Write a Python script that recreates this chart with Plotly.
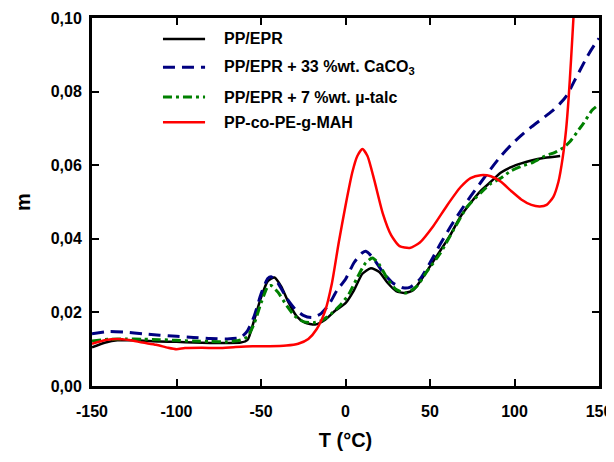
import plotly.graph_objects as go

# ---- data ----
T_black = [-150, -142, -135, -125, -110, -100, -90, -80, -70, -62, -58, -54, -50, -46, -42, -38, -34, -29, -24, -18, -12, -6, 0, 5, 10, 15, 20, 25, 30, 35, 40, 45, 50, 55, 62, 68, 74, 80, 86, 92, 98, 104, 110, 118, 127]
m_black = [0.0105, 0.0118, 0.0124, 0.0124, 0.0121, 0.0120, 0.0118, 0.0117, 0.0117, 0.0118, 0.0125, 0.018, 0.024, 0.0285, 0.0295, 0.027, 0.023, 0.019, 0.0172, 0.0167, 0.018, 0.0205, 0.0225, 0.026, 0.0305, 0.032, 0.031, 0.028, 0.0258, 0.0253, 0.026, 0.029, 0.0325, 0.036, 0.041, 0.046, 0.0497, 0.053, 0.0555, 0.058, 0.0595, 0.0605, 0.0613, 0.062, 0.0625]

T_blue = [-150, -140, -130, -120, -110, -100, -90, -80, -70, -62, -58, -54, -50, -46, -44, -40, -35, -30, -25, -20, -15, -10, -5, 0, 5, 10, 12, 16, 22, 28, 34, 38, 44, 50, 56, 62, 68, 74, 80, 86, 92, 98, 104, 110, 116, 122, 127, 131, 135, 139, 143, 147, 150]
m_blue = [0.0142, 0.0148, 0.0146, 0.0142, 0.0138, 0.0135, 0.0132, 0.0129, 0.0128, 0.0132, 0.015, 0.019, 0.025, 0.0292, 0.0297, 0.028, 0.024, 0.021, 0.0192, 0.0186, 0.0195, 0.022, 0.026, 0.029, 0.0335, 0.0362, 0.0366, 0.035, 0.031, 0.028, 0.0267, 0.0268, 0.029, 0.0335, 0.0385, 0.0432, 0.0475, 0.0515, 0.0553, 0.059, 0.0625, 0.0655, 0.0681, 0.0704, 0.0725, 0.0746, 0.0768, 0.079, 0.0825, 0.086, 0.0895, 0.0925, 0.0945]

T_green = [-150, -140, -130, -120, -110, -100, -90, -80, -70, -62, -58, -54, -50, -46, -44, -40, -35, -30, -25, -19, -14, -8, -3, 2, 7, 12, 16, 20, 25, 30, 36, 42, 48, 56, 64, 72, 80, 86, 92, 98, 104, 111, 118, 124, 129, 133, 137, 141, 146, 150]
m_green = [0.0122, 0.0127, 0.0128, 0.0127, 0.0126, 0.0124, 0.0122, 0.0121, 0.012, 0.0125, 0.0134, 0.017, 0.0225, 0.027, 0.0273, 0.0255, 0.022, 0.019, 0.0175, 0.0172, 0.0178, 0.0198, 0.022, 0.025, 0.0295, 0.0335, 0.0348, 0.033, 0.029, 0.0262, 0.0253, 0.027, 0.031, 0.036, 0.0425, 0.0487, 0.0525, 0.055, 0.0565, 0.0585, 0.0597, 0.0608, 0.0625, 0.0635, 0.0648, 0.0665, 0.069, 0.0715, 0.075, 0.0765]

T_red = [-150, -142, -135, -128, -120, -112, -105, -100, -95, -85, -75, -65, -55, -45, -35, -28, -22, -17, -12, -8, -4, 0, 4, 7, 10, 13, 17, 22, 27, 32, 38, 44, 52, 60, 68, 74, 80, 86, 92, 98, 104, 110, 115, 119, 123, 126, 128.5, 130.5, 132, 133.5, 135, 136.5]
m_red = [0.0115, 0.0125, 0.0128, 0.0125, 0.0118, 0.0112, 0.0104, 0.0100, 0.0103, 0.0104, 0.0103, 0.0106, 0.0108, 0.0108, 0.011, 0.0115, 0.0128, 0.0155, 0.0205, 0.028, 0.039, 0.049, 0.058, 0.0625, 0.0644, 0.0625, 0.056, 0.047, 0.041, 0.038, 0.0375, 0.039, 0.0435, 0.049, 0.054, 0.0565, 0.0573, 0.057, 0.0555, 0.053, 0.0507, 0.0492, 0.0488, 0.0492, 0.0514, 0.0555, 0.062, 0.0695, 0.078, 0.089, 0.101, 0.114]

names = ["PP/EPR", "PP/EPR + 33 %wt. CaCO<sub>3</sub>", "PP/EPR + 7 %wt. µ-talc", "PP-co-PE-g-MAH"]
x_ticks = [-150, -100, -50, 0, 50, 100, 150]
x_ticktext = ["-150", "-100", "-50", "0", "50", "100", "150"]
y_ticks = [0.00, 0.02, 0.04, 0.06, 0.08, 0.10]

FONT = "Liberation Sans, Arial, sans-serif"
colors = ["black", "#000080", "#008000", "#ff0000"]
widths = [2.5, 3, 3, 2.5]
dashes = ["solid", "12px,7px", "9px,4px,3px,4px", "solid"]

fig = go.Figure()
for T, m, nm, c, w, d in zip([T_black, T_blue, T_green, T_red], [m_black, m_blue, m_green, m_red],
                             names, colors, widths, dashes):
    fig.add_trace(go.Scatter(x=T, y=m, mode="lines", name=nm, showlegend=False,
                             line=dict(color=c, width=w, dash=d, shape="spline", smoothing=0.6)))

# manual legend (placed in paper coordinates, top-left inside the plot)
leg_rows_y = [0.943, 0.866, 0.785, 0.717]
for nm, c, w, d, yy in zip(names, colors, widths, dashes, leg_rows_y):
    fig.add_shape(type="line", xref="paper", yref="paper", x0=0.140, x1=0.223, y0=yy, y1=yy,
                  line=dict(color=c, width=w, dash=d))
    fig.add_annotation(xref="paper", yref="paper", x=0.256, y=yy, text=nm, showarrow=False,
                       xanchor="left", yanchor="middle",
                       font=dict(family=FONT, size=16, color="black", weight="bold"))

axis_common = dict(showgrid=False, zeroline=False, showline=True, linecolor="black", linewidth=3,
                   mirror="ticks", ticks="inside", ticklen=7, tickwidth=2, tickcolor="black",
                   automargin=False,
                   tickfont=dict(family=FONT, size=16, color="black", weight="bold"))

fig.update_xaxes(range=[-150, 150], tickvals=x_ticks, ticktext=x_ticktext, ticklabelstandoff=9,
                 title=dict(text="T (°C)", font=dict(family=FONT, size=20, color="black", weight="bold"), standoff=14),
                 **axis_common)
fig.update_yaxes(range=[0, 0.10], tickvals=y_ticks, tickformat=".2f", ticklabelstandoff=4,
                 title=dict(text="m", font=dict(family=FONT, size=20, color="black", weight="bold"), standoff=15),
                 **axis_common)

# the page adds an 8px body margin, so the figure is 8px smaller than the window
fig.update_layout(
    width=606, height=454,
    margin=dict(l=84, r=15, t=10, b=76),
    paper_bgcolor="white", plot_bgcolor="white",
    separators=", ",
    font=dict(family=FONT, color="black", weight="bold"),
    showlegend=False,
)

fig.write_html("out.html")
